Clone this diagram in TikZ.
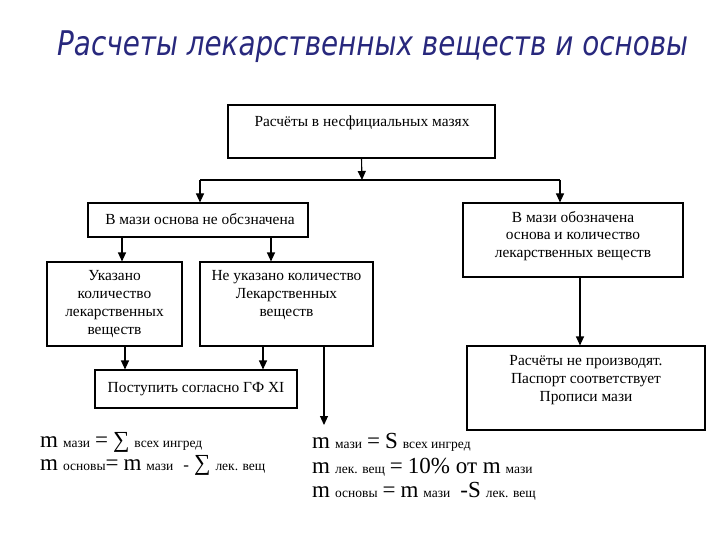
\documentclass[tikz,border=0pt]{standalone}
\usepackage{fontspec}
\setmainfont{Liberation Serif}
\newfontfamily\titlefont[FakeStretch=0.818]{DejaVu Sans}
\usetikzlibrary{arrows.meta,fit}
\definecolor{titleblue}{RGB}{40,40,125}
\newcommand\FBig[1]{{\fontsize{23}{25}\selectfont #1}}
\newcommand\FSm[1]{{\fontsize{13.5}{15}\selectfont #1}}
\newcommand\FMid[1]{{\fontsize{17}{19}\selectfont #1}}
\newcommand\Gp{\hspace{5pt}}
\begin{document}
\begin{tikzpicture}[x=1pt,y=-1pt,
  boxst/.style={draw, line width=1.1pt, inner sep=0pt},
  txt/.style={font=\fontsize{15.4}{17.8}\selectfont, align=center, inner sep=0pt},
  arr/.style={line width=1.1pt, -{Triangle[length=9pt,width=8pt]}},
  ln/.style={line width=1.1pt},
  frm/.style={anchor=base west, inner sep=0pt}]
\useasboundingbox (0,0) rectangle (720,540);
\node[anchor=base west, font=\titlefont\itshape\fontsize{34}{34}\selectfont, text=titleblue, inner sep=0pt] (title) at (57,56) {Расчеты лекарственных веществ и основы};

\node[boxst, fit={(228,105) (495,158)}] (b1) {};
\node[txt, anchor=base] (t1) at (362,127) {Расчёты в несфициальных мазях};
\node[boxst, fit={(88,203) (308,237)}] (b2) {};
\node[txt] (t2) at (200,219) {В мази основа не обсзначена};
\node[boxst, fit={(463,203) (683,277)}] (b3) {};
\node[txt] (t3) at (573,236) {В мази обозначена\\основа и количество\\лекарственных веществ};
\node[boxst, fit={(47,262) (182,346)}] (b4) {};
\node[txt] (t4) at (114.5,304) {Указано\\количество\\лекарственных\\веществ};
\node[boxst, fit={(200,262) (373,346)}] (b5) {};
\node[txt] (t5) at (286.5,295) {Не указано количество\\Лекарственных\\веществ};
\node[boxst, fit={(95,370) (297,408)}] (b6) {};
\node[txt] (t6) at (196,389) {Поступить согласно ГФ XI};
\node[boxst, fit={(467,346) (705,430)}] (b7) {};
\node[txt] (t7) at (586,380) {Расчёты не производят.\\Паспорт соответствует\\Прописи мази};

\coordinate (split) at (362,180);
\coordinate (hl) at (200,180);
\coordinate (hr) at (560,180);
\coordinate (xa) at (122,0);
\coordinate (xb) at (271,0);
\coordinate (xc) at (125,0);
\coordinate (xd) at (263,0);
\coordinate (xe) at (324,0);
\coordinate (xf) at (580,0);
\coordinate (fend) at (324,425);

\draw[arr] (b1.south) -- (split);
\draw[ln] (hl) -- (hr);
\draw[arr] (hl) -- (hl |- b2.north);
\draw[arr] (hr) -- (hr |- b3.north);
\draw[arr] (b2.south -| xa) -- (b4.north -| xa);
\draw[arr] (b2.south -| xb) -- (b5.north -| xb);
\draw[arr] (b4.south -| xc) -- (b6.north -| xc);
\draw[arr] (b5.south -| xd) -- (b6.north -| xd);
\draw[arr] (b5.south -| xe) -- (fend);
\draw[arr] (b3.south -| xf) -- (b7.north -| xf);

\node[frm] (f1) at (40,447) {\FBig{m}\Gp\FSm{мази}\Gp\FBig{=}\Gp\FBig{∑}\Gp\FSm{всех ингред}};
\node[frm] (f2) at (40,470) {\FBig{m}\Gp\FSm{основы}\FBig{=}\Gp\FBig{m}\Gp\FSm{мази}\Gp\Gp\FMid{-}\Gp\FBig{∑}\Gp\FSm{лек. вещ}};
\node[frm] (f3) at (312,448) {\FBig{m}\Gp\FSm{мази}\Gp\FBig{=}\Gp\FBig{S}\Gp\FSm{всех ингред}};
\node[frm] (f4) at (312,473) {\FBig{m}\Gp\FSm{лек. вещ}\Gp\FBig{=}\Gp\FBig{10\% от m}\Gp\FSm{мази}};
\node[frm] (f5) at (312,497) {\FBig{m}\Gp\FSm{основы}\Gp\FBig{=}\Gp\FBig{m}\Gp\FSm{мази}\Gp\Gp\FBig{-S}\Gp\FSm{лек. вещ}};
\end{tikzpicture}
\end{document}
